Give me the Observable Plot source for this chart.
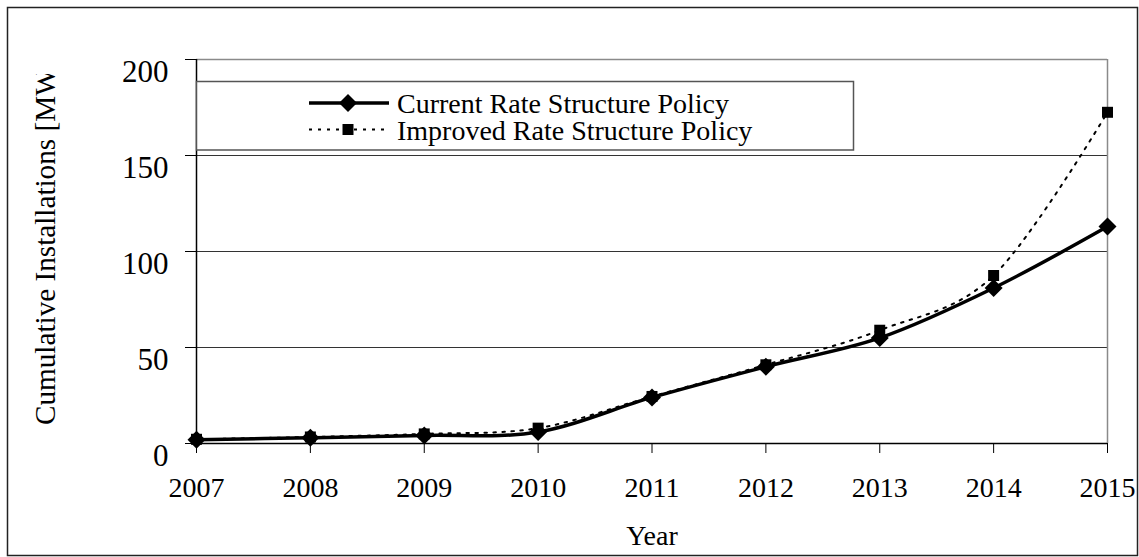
<!DOCTYPE html>
<html>
<head>
<meta charset="utf-8">
<script src="https://cdn.jsdelivr.net/npm/d3@7"></script>
<script src="https://cdn.jsdelivr.net/npm/@observablehq/plot@0.6"></script>
<style>
  html, body { margin: 0; padding: 0; background: #fff; }
  #chart svg { display: block; overflow: visible; }
</style>
</head>
<body>
<div id="chart"></div>
<script>
// Cumulative installations (MW) by year under two rate-structure policies
const years = [2007, 2008, 2009, 2010, 2011, 2012, 2013, 2014, 2015];
const currentPolicy = [2, 3, 4.2, 6, 24, 40, 55, 81, 113];
const improvedPolicy = [2.2, 3.4, 5, 8, 24.5, 41, 59, 87.5, 172.5];
const yTicks = [0, 50, 100, 150, 200];
const seriesNames = ["Current Rate Structure Policy", "Improved Rate Structure Policy"];
const xTitle = "Year";
const yTitle = "Cumulative Installations [MW]";

const current = years.map((year, i) => ({year, value: currentPolicy[i], series: seriesNames[0]}));
const improved = years.map((year, i) => ({year, value: improvedPolicy[i], series: seriesNames[1]}));

const W = 1139, H = 557;
const serif = "'Liberation Serif', 'Times New Roman', serif";

const chart = Plot.plot({
  width: W,
  height: H,
  marginLeft: 196,
  marginRight: 32,
  marginTop: 59,
  marginBottom: 114,
  style: {fontFamily: serif, fontSize: "28px", color: "#000", background: "transparent", overflow: "visible"},
  x: {domain: [2007, 2015]},
  y: {domain: [0, 200]},
  marks: [
    Plot.gridY(yTicks.slice(1, -1), {stroke: "#333", strokeOpacity: 1, strokeWidth: 1}),
    Plot.ruleY([200], {stroke: "#8a8a8a", strokeWidth: 1.5}),
    Plot.ruleX([2015], {stroke: "#8a8a8a", strokeWidth: 1.5}),
    Plot.axisY(yTicks, {tickSize: 11, tickPadding: 17, fontSize: 31, label: null}),
    Plot.axisX(years, {tickSize: 10, tickPadding: 24, fontSize: 28, tickFormat: "d", label: null}),
    Plot.ruleY([0], {stroke: "#000", strokeWidth: 1.5}),
    Plot.ruleX([2007], {stroke: "#000", strokeWidth: 1.5}),
    Plot.line(current, {x: "year", y: "value", stroke: "#000", strokeWidth: 3.5, curve: "cardinal"}),
    Plot.dot(current, {x: "year", y: "value", symbol: "diamond2", r: 8.1, fill: "#000", stroke: null}),
    Plot.line(improved, {x: "year", y: "value", stroke: "#000", strokeWidth: 2, strokeDasharray: "2.5,6.5", curve: "cardinal"}),
    Plot.dot(improved, {x: "year", y: "value", symbol: "square", r: 6.2, fill: "#000", stroke: null}),
    Plot.text([xTitle], {frameAnchor: "bottom", lineAnchor: "top", dy: 82, fontSize: 28, fill: "#000"})
  ]
});

document.getElementById("chart").appendChild(chart);

const svg = d3.select(chart);

// nudge y tick labels slightly below their ticks
svg.selectAll('g[aria-label="y-axis tick label"] text').attr("dy", "0.42em");

// outer chart border
svg.append("rect")
  .attr("x", 7.5).attr("y", 7.5)
  .attr("width", 1130).attr("height", 548)
  .attr("fill", "none").attr("stroke", "#222").attr("stroke-width", 1.5);

// rotated y-axis title, clipped at the top like the chart area
const defs = svg.append("defs");
defs.append("clipPath").attr("id", "ytitle-clip")
  .append("rect").attr("x", 0).attr("y", 74).attr("width", 190).attr("height", 420);
svg.append("g")
  .attr("clip-path", "url(#ytitle-clip)")
  .append("text")
  .attr("transform", "translate(55,425) rotate(-90)")
  .attr("text-anchor", "start")
  .attr("font-family", serif)
  .attr("font-size", 29.2)
  .attr("fill", "#000")
  .text(yTitle);

// legend box
const leg = svg.append("g")
  .attr("font-family", serif)
  .attr("font-size", 28)
  .attr("text-anchor", "start");
leg.append("rect")
  .attr("x", 196.5).attr("y", 81.5)
  .attr("width", 657).attr("height", 68.5)
  .attr("fill", "#fff").attr("stroke", "#555").attr("stroke-width", 1.5);

const rows = [
  {name: seriesNames[0], y: 103, dash: null, width: 3.5, symbol: d3.symbolDiamond2, size: Math.PI * 8.1 * 8.1},
  {name: seriesNames[1], y: 129.5, dash: "3,6", width: 2, symbol: d3.symbolSquare, size: Math.PI * 6.2 * 6.2}
];
rows.forEach(r => {
  leg.append("line")
    .attr("x1", 309).attr("x2", 389).attr("y1", r.y).attr("y2", r.y)
    .attr("stroke", "#000").attr("stroke-width", r.width)
    .attr("stroke-dasharray", r.dash);
  leg.append("path")
    .attr("transform", `translate(348,${r.y})`)
    .attr("d", d3.symbol(r.symbol, r.size)())
    .attr("fill", "#000");
  leg.append("text")
    .attr("x", 397).attr("y", r.y + 10)
    .attr("text-anchor", "start")
    .attr("fill", "#000")
    .text(r.name);
});
</script>
</body>
</html>
